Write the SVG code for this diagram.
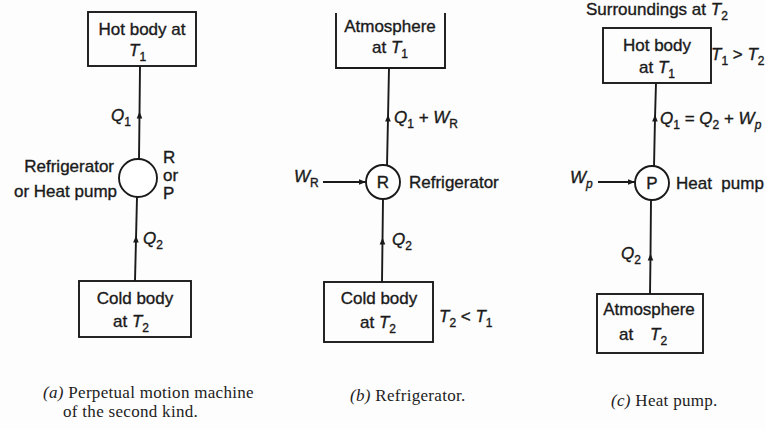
<svg xmlns="http://www.w3.org/2000/svg" width="765" height="429" viewBox="0 0 765 429">
<style>
.bg{fill:#fdfdfd}
.box{fill:none;stroke:#1a1a1a;stroke-width:1.9}
.ln{fill:none;stroke:#1a1a1a;stroke-width:1.9}
.cir{fill:#fff;stroke:#1a1a1a;stroke-width:1.9}
.t{font-family:"Liberation Sans",Arial,sans-serif;font-size:17px;fill:#1a1a1a;stroke:#1a1a1a;stroke-width:0.35}
.i{font-style:italic}
.n{font-style:normal}
.s{font-size:12px}
.cap{font-family:"Liberation Serif","Times New Roman",serif;font-size:17px;fill:#222;letter-spacing:0.3px}
</style>
<defs>
<marker id="ah" viewBox="0 0 10 10" refX="5" refY="5" markerWidth="8" markerHeight="7" markerUnits="userSpaceOnUse" orient="auto">
<path d="M0,1 L10,5 L0,9 Z" fill="#1a1a1a"/>
</marker>
<marker id="ae" viewBox="0 0 10 10" refX="10" refY="5" markerWidth="8" markerHeight="7" markerUnits="userSpaceOnUse" orient="auto">
<path d="M0,1 L10,5 L0,9 Z" fill="#1a1a1a"/>
</marker>
</defs>
<rect class="bg" x="0" y="0" width="765" height="429"/>

<g id="connectors">
<path class="ln" d="M139,159 L139.5,115 L140,66" marker-mid="url(#ah)"/>
<path class="ln" d="M135,281 L136,239 L137,197" marker-mid="url(#ah)"/>
<path class="ln" d="M387,166 L388,118 L389,68" marker-mid="url(#ah)"/>
<path class="ln" d="M382,282 L382.5,241 L383,199" marker-mid="url(#ah)"/>
<path class="ln" d="M323,182 L366,182" marker-end="url(#ae)"/>
<path class="ln" d="M598,182 L635,182" marker-end="url(#ae)"/>
<path class="ln" d="M654,167 L655,118 L656,83" marker-mid="url(#ah)"/>
<path class="ln" d="M650,294 L650.5,257 L651,199" marker-mid="url(#ah)"/>
</g>

<!-- (a) -->
<g id="a-hot">
<rect class="box" x="88" y="12" width="108" height="54"/>
<text class="t" x="142" y="35" text-anchor="middle">Hot body at</text>
<text class="t i" x="129" y="56">T<tspan class="s n" dy="5">1</tspan></text>
</g>
<g id="a-q1"><text class="t i" x="111" y="121">Q<tspan class="s n" dy="5">1</tspan></text></g>
<g id="a-machine">
<circle class="cir" cx="138" cy="178" r="19"/>
<text class="t" x="114" y="172" text-anchor="end">Refrigerator</text>
<text class="t" x="117" y="197" text-anchor="end">or Heat pump</text>
<text class="t" x="163" y="163" font-size="13">R</text>
<text class="t" x="163" y="181" font-size="13">or</text>
<text class="t" x="163" y="199" font-size="13">P</text>
</g>
<g id="a-q2"><text class="t i" x="143" y="244">Q<tspan class="s n" dy="5">2</tspan></text></g>
<g id="a-cold">
<rect class="box" x="79" y="281" width="112" height="56"/>
<text class="t" x="135" y="304" text-anchor="middle">Cold body</text>
<text class="t" x="113" y="327">at <tspan class="i">T</tspan><tspan class="s" dy="5">2</tspan></text>
</g>
<g id="a-caption">
<text class="cap" x="43" y="398"><tspan font-style="italic">(a)</tspan> Perpetual motion machine</text>
<text class="cap" x="63" y="417">of the second kind.</text>
</g>

<!-- (b) -->
<g id="b-atm">
<path class="box" d="M336,13 L336,68 L445,68 L445,13"/>
<text class="t" x="390" y="32" text-anchor="middle">Atmosphere</text>
<text class="t" x="372" y="53">at <tspan class="i">T</tspan><tspan class="s" dy="5">1</tspan></text>
</g>
<g id="b-q1"><text class="t i" x="394" y="123">Q<tspan class="s n" dy="5">1</tspan><tspan class="n" dy="-5"> + </tspan>W<tspan class="s n" dy="5">R</tspan></text></g>
<g id="b-wr"><text class="t i" x="294" y="182">W<tspan class="s n" dy="5">R</tspan></text></g>
<g id="b-machine">
<circle class="cir" cx="383" cy="182" r="17"/>
<text class="t" x="383" y="188" text-anchor="middle">R</text>
<text class="t" x="409" y="188">Refrigerator</text>
</g>
<g id="b-q2"><text class="t i" x="392" y="245">Q<tspan class="s n" dy="5">2</tspan></text></g>
<g id="b-cold">
<rect class="box" x="324" y="282" width="109" height="60"/>
<text class="t" x="379" y="304" text-anchor="middle">Cold body</text>
<text class="t" x="360" y="328">at <tspan class="i">T</tspan><tspan class="s" dy="5">2</tspan></text>
<text class="t i" x="439" y="322">T<tspan class="s n" dy="5">2</tspan><tspan class="n" dy="-5"> &lt; </tspan>T<tspan class="s n" dy="5">1</tspan></text>
</g>
<g id="b-caption"><text class="cap" x="350" y="401"><tspan font-style="italic">(b)</tspan> Refrigerator.</text></g>

<!-- (c) -->
<g id="c-surr"><text class="t" x="586" y="15" font-size="16">Surroundings at <tspan class="i">T</tspan><tspan class="s" dy="5">2</tspan></text></g>
<g id="c-hot">
<rect class="box" x="603" y="28" width="108" height="55"/>
<text class="t" x="657" y="51" text-anchor="middle">Hot body</text>
<text class="t" x="639" y="73">at <tspan class="i">T</tspan><tspan class="s" dy="5">1</tspan></text>
<text class="t i" x="711" y="60" font-size="16">T<tspan class="s n" dy="5">1</tspan><tspan class="n" dy="-5"> &gt; </tspan>T<tspan class="s n" dy="5">2</tspan></text>
</g>
<g id="c-q1"><text class="t i" x="660" y="124" font-size="16">Q<tspan class="s n" dy="5">1</tspan><tspan class="n" dy="-5"> = </tspan>Q<tspan class="s n" dy="5">2</tspan><tspan class="n" dy="-5"> + </tspan>W<tspan class="s" dy="5">p</tspan></text></g>
<g id="c-wp"><text class="t i" x="570" y="183">W<tspan class="s" dy="5">p</tspan></text></g>
<g id="c-machine">
<circle class="cir" cx="652" cy="183" r="17"/>
<text class="t" x="652" y="189" text-anchor="middle">P</text>
<text class="t" x="676" y="189" xml:space="preserve">Heat  pump</text>
</g>
<g id="c-q2"><text class="t i" x="621" y="259">Q<tspan class="s n" dy="5">2</tspan></text></g>
<g id="c-atm">
<rect class="box" x="597" y="294" width="106" height="59"/>
<text class="t" x="649" y="315" text-anchor="middle">Atmosphere</text>
<text class="t" x="619" y="340">at<tspan class="i" x="650">T</tspan><tspan class="s" dy="5">2</tspan></text>
</g>
<g id="c-caption"><text class="cap" x="611" y="406"><tspan font-style="italic">(c)</tspan> Heat pump.</text></g>
</svg>
